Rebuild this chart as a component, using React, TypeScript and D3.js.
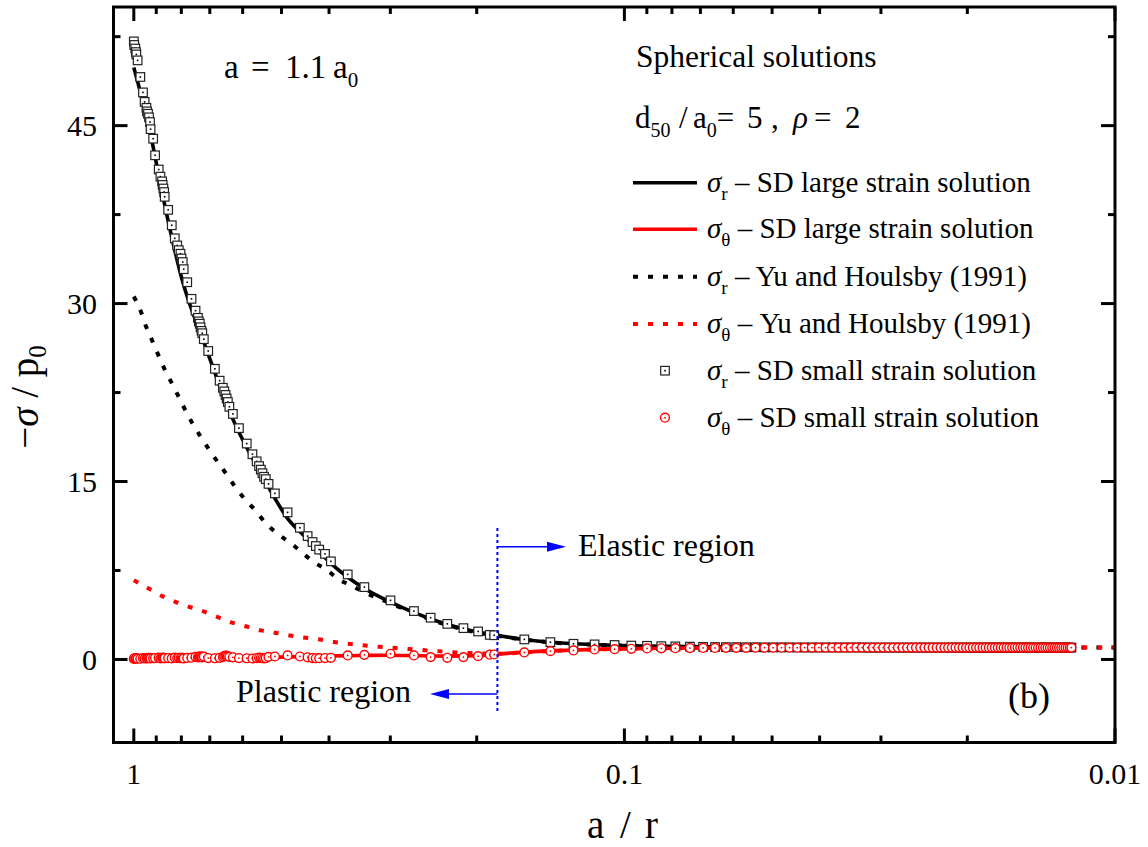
import React from "react";
import * as d3 from "d3";

// ---------- axis ticks ----------
const xMajorTicks = [1, 0.1, 0.01];
const xTickLabels = ["1", "0.1", "0.01"];
const xMinorTicks = [0.9, 0.8, 0.7, 0.6, 0.5, 0.4, 0.3, 0.2, 0.09, 0.08, 0.07, 0.06, 0.05, 0.04, 0.03, 0.02];
const yMajorTicks = [0, 15, 30, 45];
const yMinorTicks = [7.5, 22.5, 37.5, 52.5];

// ---------- SD large strain solution (a/r, -sigma/p0) ----------
const largeSrX = [1.0, 0.928, 0.872, 0.797, 0.714, 0.635, 0.541, 0.486, 0.4437, 0.3965, 0.3394, 0.3003, 0.2683, 0.2296, 0.1987, 0.1815, 0.1598, 0.1413, 0.1155, 0.0899, 0.0694, 0.0434, 0.0271, 0.01227];
const largeSrY = [49.9, 44.6, 39.0, 32.0, 26.35, 20.7, 15.1, 11.9, 10.2, 8.1, 6.0, 4.85, 3.95, 2.95, 2.3, 2.03, 1.68, 1.45, 1.26, 1.13, 1.06, 1.02, 1.0, 1.0];
const largeStX = [1.0, 0.93, 0.8, 0.7, 0.6, 0.5, 0.3965, 0.3394, 0.3003, 0.2683, 0.2296, 0.1987, 0.1815, 0.1598, 0.1413, 0.1155, 0.0899, 0.0694, 0.0434, 0.0271, 0.01227];
const largeStY = [0.05, 0.07, 0.1, 0.12, 0.15, 0.2, 0.3, 0.34, 0.36, 0.32, 0.28, 0.32, 0.45, 0.62, 0.72, 0.85, 0.92, 0.96, 0.99, 1.0, 1.0];

// ---------- Yu and Houlsby (1991) ----------
const yuSrX = [1.0, 0.9667, 0.9428, 0.9179, 0.892, 0.866, 0.842, 0.8137, 0.787, 0.7594, 0.7312, 0.7051, 0.676, 0.6468, 0.6202, 0.5935, 0.5662, 0.5384, 0.5096, 0.4786, 0.4529, 0.4295, 0.4026, 0.3835, 0.3608, 0.3394, 0.3003, 0.2683, 0.2296, 0.1987, 0.1815, 0.1598, 0.1413, 0.1155, 0.0899, 0.0694, 0.0434, 0.0271, 0.01];
const yuSrY = [30.6, 29.3, 28.0, 26.9, 25.7, 24.5, 23.5, 22.3, 21.1, 19.9, 18.8, 17.8, 16.7, 15.6, 14.5, 13.5, 12.6, 11.5, 10.6, 9.8, 8.97, 8.2, 7.5, 6.8, 6.24, 5.68, 4.75, 3.9, 2.9, 2.25, 2.0, 1.66, 1.44, 1.25, 1.13, 1.06, 1.02, 1.0, 1.0];
const yuStX = [1.0, 0.925, 0.8704, 0.816, 0.7664, 0.7212, 0.6719, 0.626, 0.5832, 0.551, 0.5186, 0.4854, 0.4565, 0.4219, 0.3841, 0.3557, 0.3284, 0.309, 0.2851, 0.2636, 0.244, 0.2253, 0.2083, 0.1929, 0.1815, 0.1598, 0.1413, 0.1155, 0.0899, 0.0694, 0.0434, 0.0271, 0.01];
const yuStY = [6.67, 5.9, 5.3, 4.8, 4.4, 4.05, 3.54, 3.07, 2.73, 2.45, 2.28, 2.05, 1.88, 1.71, 1.43, 1.27, 1.12, 1.04, 0.93, 0.82, 0.72, 0.62, 0.55, 0.5, 0.48, 0.6, 0.71, 0.84, 0.92, 0.96, 0.99, 1.0, 1.0];

// ---------- SD small strain solution (r/a, -sigma_r/p0, -sigma_theta/p0) ----------
const smallR = [
  1.000, 1.002, 1.007, 1.010, 1.012, 1.018, 1.031, 1.044, 1.052, 1.061,
  1.064, 1.069, 1.074, 1.079, 1.082, 1.095, 1.105, 1.124, 1.133, 1.142,
  1.145, 1.149, 1.153, 1.156, 1.175, 1.195, 1.212, 1.226, 1.235, 1.245,
  1.251, 1.258, 1.264, 1.285, 1.311, 1.336, 1.351, 1.357, 1.363, 1.368,
  1.374, 1.379, 1.389, 1.418, 1.463, 1.496, 1.519, 1.529, 1.538, 1.546,
  1.555, 1.566, 1.592, 1.638, 1.699, 1.745, 1.780, 1.800, 1.815, 1.829,
  1.843, 1.858, 1.882, 1.939, 2.058, 2.180, 2.261, 2.314, 2.350, 2.387,
  2.453, 2.522, 2.729, 2.951, 3.336, 3.724, 4.027, 4.355, 4.697, 5.033,
  5.316, 5.428, 6.252, 7.066, 7.873, 8.694, 9.550, 10.33, 11.12, 11.89,
  12.70, 13.60, 14.47,
  15.3, 16.1, 16.9, 17.7, 18.5, 19.3, 20.1, 20.9, 21.7, 22.5,
  23.3, 24.1, 24.9, 25.7, 26.5, 27.3, 28.1, 28.9, 29.7, 30.5,
  31.3, 32.1, 32.9, 33.7, 34.5, 35.3, 36.1, 36.9, 37.7, 38.5,
  39.3, 40.1, 40.9, 41.7, 42.5, 43.3, 44.1, 44.9, 45.7, 46.5,
  47.3, 48.1, 48.9, 49.7, 50.5, 51.3, 52.1, 52.9, 53.7, 54.5,
  55.3, 56.1, 56.9, 57.7, 58.5, 59.3, 60.1, 60.9, 61.7, 62.5,
  63.3, 64.1, 64.9, 65.7, 66.5, 67.3, 68.1, 68.9, 69.7, 70.5,
  71.3, 72.1, 72.9, 73.7, 74.5, 75.3, 76.1, 76.9, 77.7, 78.5,
  79.3, 80.1, 80.9, 81.5,
];
const smallSr = [
  52.1, 51.8, 51.5, 51.2, 51.0, 50.5, 49.1, 47.8, 47.0, 46.5,
  46.2, 46.0, 45.7, 45.3, 44.7, 43.9, 42.5, 41.3, 40.7, 40.3,
  40.0, 39.7, 39.4, 39.0, 37.9, 36.6, 35.5, 34.9, 34.5, 34.2,
  33.8, 33.5, 32.9, 31.8, 30.4, 29.4, 28.8, 28.5, 28.3, 28.0,
  27.7, 27.5, 27.0, 26.0, 24.5, 23.5, 22.9, 22.6, 22.3, 22.0,
  21.7, 21.3, 20.7, 19.5, 18.2, 17.3, 16.7, 16.3, 16.0, 15.7,
  15.4, 15.2, 14.8, 14.0, 12.4, 11.1, 10.4, 9.9, 9.56, 9.26,
  8.9, 8.27, 7.17, 6.1, 4.98, 4.08, 3.52, 3.0, 2.64, 2.36,
  2.07, 2.04, 1.69, 1.46, 1.32, 1.27, 1.22, 1.17, 1.15, 1.12,
  1.10, 1.08, 1.06,
  1.05, 1.04, 1.04, 1.03, 1.03, 1.02, 1.02, 1.02, 1.02, 1.01,
  1.01, 1.01, 1.01, 1.01, 1.01, 1.01, 1.01, 1.01, 1.01, 1.01,
  1.00, 1.00, 1.00, 1.00, 1.00, 1.00, 1.00, 1.00, 1.00, 1.00,
  1.00, 1.00, 1.00, 1.00, 1.00, 1.00, 1.00, 1.00, 1.00, 1.00,
  1.00, 1.00, 1.00, 1.00, 1.00, 1.00, 1.00, 1.00, 1.00, 1.00,
  1.00, 1.00, 1.00, 1.00, 1.00, 1.00, 1.00, 1.00, 1.00, 1.00,
  1.00, 1.00, 1.00, 1.00, 1.00, 1.00, 1.00, 1.00, 1.00, 1.00,
  1.00, 1.00, 1.00, 1.00, 1.00, 1.00, 1.00, 1.00, 1.00, 1.00,
  1.00, 1.00, 1.00, 1.00,
];
const smallSt = [
  0.05, 0.10, 0.06, 0.09, 0.12, 0.07, 0.06, 0.11, 0.08, 0.12,
  0.09, 0.13, 0.10, 0.14, 0.08, 0.10, 0.12, 0.15, 0.09, 0.13,
  0.11, 0.16, 0.12, 0.10, 0.12, 0.09, 0.15, 0.11, 0.14, 0.10,
  0.16, 0.12, 0.09, 0.13, 0.15, 0.22, 0.18, 0.25, 0.20, 0.27,
  0.22, 0.18, 0.24, 0.12, 0.10, 0.14, 0.20, 0.28, 0.32, 0.30,
  0.26, 0.22, 0.18, 0.12, 0.10, 0.08, 0.12, 0.16, 0.14, 0.10,
  0.08, 0.12, 0.22, 0.25, 0.34, 0.25, 0.18, 0.12, 0.10, 0.11,
  0.12, 0.14, 0.34, 0.39, 0.48, 0.34, 0.20, 0.14, 0.20, 0.28,
  0.40, 0.42, 0.59, 0.70, 0.76, 0.84, 0.87, 0.90, 0.93, 0.94,
  0.95, 0.96, 0.97,
  0.97, 0.98, 0.98, 0.98, 0.99, 0.99, 0.99, 0.99, 0.99, 0.99,
  1.00, 1.00, 1.00, 1.00, 1.00, 1.00, 1.00, 1.00, 1.00, 1.00,
  1.00, 1.00, 1.00, 1.00, 1.00, 1.00, 1.00, 1.00, 1.00, 1.00,
  1.00, 1.00, 1.00, 1.00, 1.00, 1.00, 1.00, 1.00, 1.00, 1.00,
  1.00, 1.00, 1.00, 1.00, 1.00, 1.00, 1.00, 1.00, 1.00, 1.00,
  1.00, 1.00, 1.00, 1.00, 1.00, 1.00, 1.00, 1.00, 1.00, 1.00,
  1.00, 1.00, 1.00, 1.00, 1.00, 1.00, 1.00, 1.00, 1.00, 1.00,
  1.00, 1.00, 1.00, 1.00, 1.00, 1.00, 1.00, 1.00, 1.00, 1.00,
  1.00, 1.00, 1.00, 1.00,
];

// elastic / plastic boundary (a/r)
const plasticBoundary = 0.1815;

const W = 1148;
const H = 847;
const L = 113.5, R = 1115, T = 7, B = 742.5;
const FONT = "'Liberation Serif', 'Times New Roman', serif";

const zip = (xs: number[], ys: number[]) => xs.map((v, i) => [v, ys[i]] as [number, number]);

export default function App() {
  const x = d3.scaleLog().domain([1.1, 0.01]).range([L, R]);
  const y = d3.scaleLinear().domain([-7, 55]).range([B, T]);
  const line = d3
    .line<[number, number]>()
    .x((d) => x(d[0]))
    .y((d) => y(d[1]))
    .curve(d3.curveMonotoneX);

  const smallPts = smallR.map((r, i) => ({ ar: 1 / r, sr: smallSr[i], st: smallSt[i] }));
  const xb = x(plasticBoundary);

  const legendRows = [182.7, 229.3, 276.7, 324, 370.7, 417.7];
  const legendLabels: [string, string][] = [
    ["r", " – SD large strain solution"],
    ["θ", " – SD large strain solution"],
    ["r", " – Yu and Houlsby (1991)"],
    ["θ", " – Yu and Houlsby (1991)"],
    ["r", " – SD small strain solution"],
    ["θ", " – SD small strain solution"],
  ];

  const Square = ({ cx, cy }: { cx: number; cy: number }) => (
    <g>
      <rect x={cx - 4.3} y={cy - 4.3} width={8.6} height={8.6} fill="#fff" stroke="#222" strokeWidth={1.2} />
      <rect x={cx - 0.8} y={cy - 0.8} width={1.6} height={1.6} fill="#000" />
    </g>
  );
  const Circle = ({ cx, cy }: { cx: number; cy: number }) => (
    <g>
      <circle cx={cx} cy={cy} r={4.4} fill="#fff" stroke="#ff0000" strokeWidth={1.4} />
      <circle cx={cx} cy={cy} r={0.9} fill="#ff0000" />
    </g>
  );

  return (
    <svg
      width={W}
      height={H}
      viewBox={`0 0 ${W} ${H}`}
      style={{ position: "absolute", left: 0, top: 0, background: "#fff", fontFamily: FONT }}
    >
      <rect x={0} y={0} width={W} height={H} fill="#fff" />

      {/* curves */}
      <path d={line(zip(largeSrX, largeSrY)) || ""} fill="none" stroke="#000" strokeWidth={3.6} />
      <path d={line(zip(largeStX, largeStY)) || ""} fill="none" stroke="#ff0000" strokeWidth={3.6} />
      <path d={line(zip(yuSrX, yuSrY)) || ""} fill="none" stroke="#000" strokeWidth={4} strokeDasharray="5 10" />
      <path d={line(zip(yuStX, yuStY)) || ""} fill="none" stroke="#ff0000" strokeWidth={4} strokeDasharray="5 10" />

      {/* small strain markers */}
      {smallPts.map((p, i) => (
        <Square key={"s" + i} cx={x(p.ar)} cy={y(p.sr)} />
      ))}
      {smallPts.map((p, i) => (
        <Circle key={"c" + i} cx={x(p.ar)} cy={y(p.st)} />
      ))}

      {/* elastic/plastic annotation */}
      <line x1={xb} x2={xb} y1={528} y2={712} stroke="#0000ff" strokeWidth={2} strokeDasharray="3 3" />
      <line x1={xb} x2={552} y1={546.7} y2={546.7} stroke="#0000ff" strokeWidth={1.5} />
      <path d={`M566,546.7 L547,541.7 L547,551.7 Z`} fill="#0000ff" />
      <line x1={xb} x2={444} y1={694} y2={694} stroke="#0000ff" strokeWidth={1.5} />
      <path d={`M430,694 L449,689 L449,699 Z`} fill="#0000ff" />
      <text x={578} y={556} fontSize={32}>Elastic region</text>
      <text x={236} y={702} fontSize={32}>Plastic region</text>

      {/* frame */}
      <rect x={L} y={T} width={R - L} height={B - T} fill="none" stroke="#000" strokeWidth={3} />

      {/* x ticks */}
      {xMajorTicks.map((t, i) => (
        <g key={"xM" + i}>
          <line x1={x(t)} x2={x(t)} y1={B} y2={B - 14} stroke="#000" strokeWidth={3} />
          <line x1={x(t)} x2={x(t)} y1={T} y2={T + 14} stroke="#000" strokeWidth={3} />
          <text x={x(t)} y={784} fontSize={30} textAnchor="middle">{xTickLabels[i]}</text>
        </g>
      ))}
      {xMinorTicks.map((t, i) => (
        <g key={"xm" + i}>
          <line x1={x(t)} x2={x(t)} y1={B} y2={B - 7} stroke="#000" strokeWidth={3} />
          <line x1={x(t)} x2={x(t)} y1={T} y2={T + 7} stroke="#000" strokeWidth={3} />
        </g>
      ))}

      {/* y ticks */}
      {yMajorTicks.map((t, i) => (
        <g key={"yM" + i}>
          <line x1={L} x2={L + 14} y1={y(t)} y2={y(t)} stroke="#000" strokeWidth={3} />
          <line x1={R} x2={R - 14} y1={y(t)} y2={y(t)} stroke="#000" strokeWidth={3} />
          <text x={97} y={y(t) + 10.5} fontSize={30} textAnchor="end">{String(t)}</text>
        </g>
      ))}
      {yMinorTicks.map((t, i) => (
        <g key={"ym" + i}>
          <line x1={L} x2={L + 7} y1={y(t)} y2={y(t)} stroke="#000" strokeWidth={3} />
          <line x1={R} x2={R - 7} y1={y(t)} y2={y(t)} stroke="#000" strokeWidth={3} />
        </g>
      ))}

      {/* axis titles */}
      <text y={838} fontSize={39}>
        <tspan x={587}>a</tspan>
        <tspan x={620}>/</tspan>
        <tspan x={645}>r</tspan>
      </text>
      <text transform="translate(38,397) rotate(-90)" fontSize={39} textAnchor="middle">
        <tspan>−</tspan>
        <tspan fontStyle="italic">σ</tspan>
        <tspan> / p</tspan>
        <tspan fontSize={25} dy={8}>0</tspan>
      </text>

      {/* annotations */}
      <text y={78} fontSize={33}>
        <tspan x={224}>a</tspan>
        <tspan x={251}>=</tspan>
        <tspan x={285}>1.1</tspan>
        <tspan x={333}>a</tspan>
        <tspan fontSize={21} dy={9}>0</tspan>
      </text>
      <text x={1008} y={708} fontSize={36}>(b)</text>

      {/* legend */}
      <text x={636} y={66.7} fontSize={31.5}>Spherical solutions</text>
      <text y={128.3} fontSize={31}>
        <tspan x={635}>d</tspan>
        <tspan fontSize={20} dy={9}>50</tspan>
        <tspan dy={-9} x={679}>/</tspan>
        <tspan x={693}>a</tspan>
        <tspan fontSize={20} dy={9}>0</tspan>
        <tspan dy={-9}>=</tspan>
        <tspan x={747}>5</tspan>
        <tspan x={771}>,</tspan>
        <tspan x={793} fontStyle="italic">ρ</tspan>
        <tspan x={814}>=</tspan>
        <tspan x={845}>2</tspan>
      </text>
      <line x1={633} x2={697} y1={legendRows[0]} y2={legendRows[0]} stroke="#000" strokeWidth={3.6} />
      <line x1={633} x2={697} y1={legendRows[1]} y2={legendRows[1]} stroke="#ff0000" strokeWidth={3.6} />
      <line x1={633} x2={697} y1={legendRows[2]} y2={legendRows[2]} stroke="#000" strokeWidth={4} strokeDasharray="5 10" />
      <line x1={633} x2={697} y1={legendRows[3]} y2={legendRows[3]} stroke="#ff0000" strokeWidth={4} strokeDasharray="5 10" />
      <Square cx={665} cy={legendRows[4]} />
      <Circle cx={665} cy={legendRows[5]} />
      {legendLabels.map(([sub, rest], i) => (
        <text key={"lg" + i} x={707} y={legendRows[i] + 9} fontSize={29}>
          <tspan fontStyle="italic">σ</tspan>
          <tspan fontSize={19} dy={8}>{sub}</tspan>
          <tspan dy={-8}>{rest}</tspan>
        </text>
      ))}
    </svg>
  );
}
